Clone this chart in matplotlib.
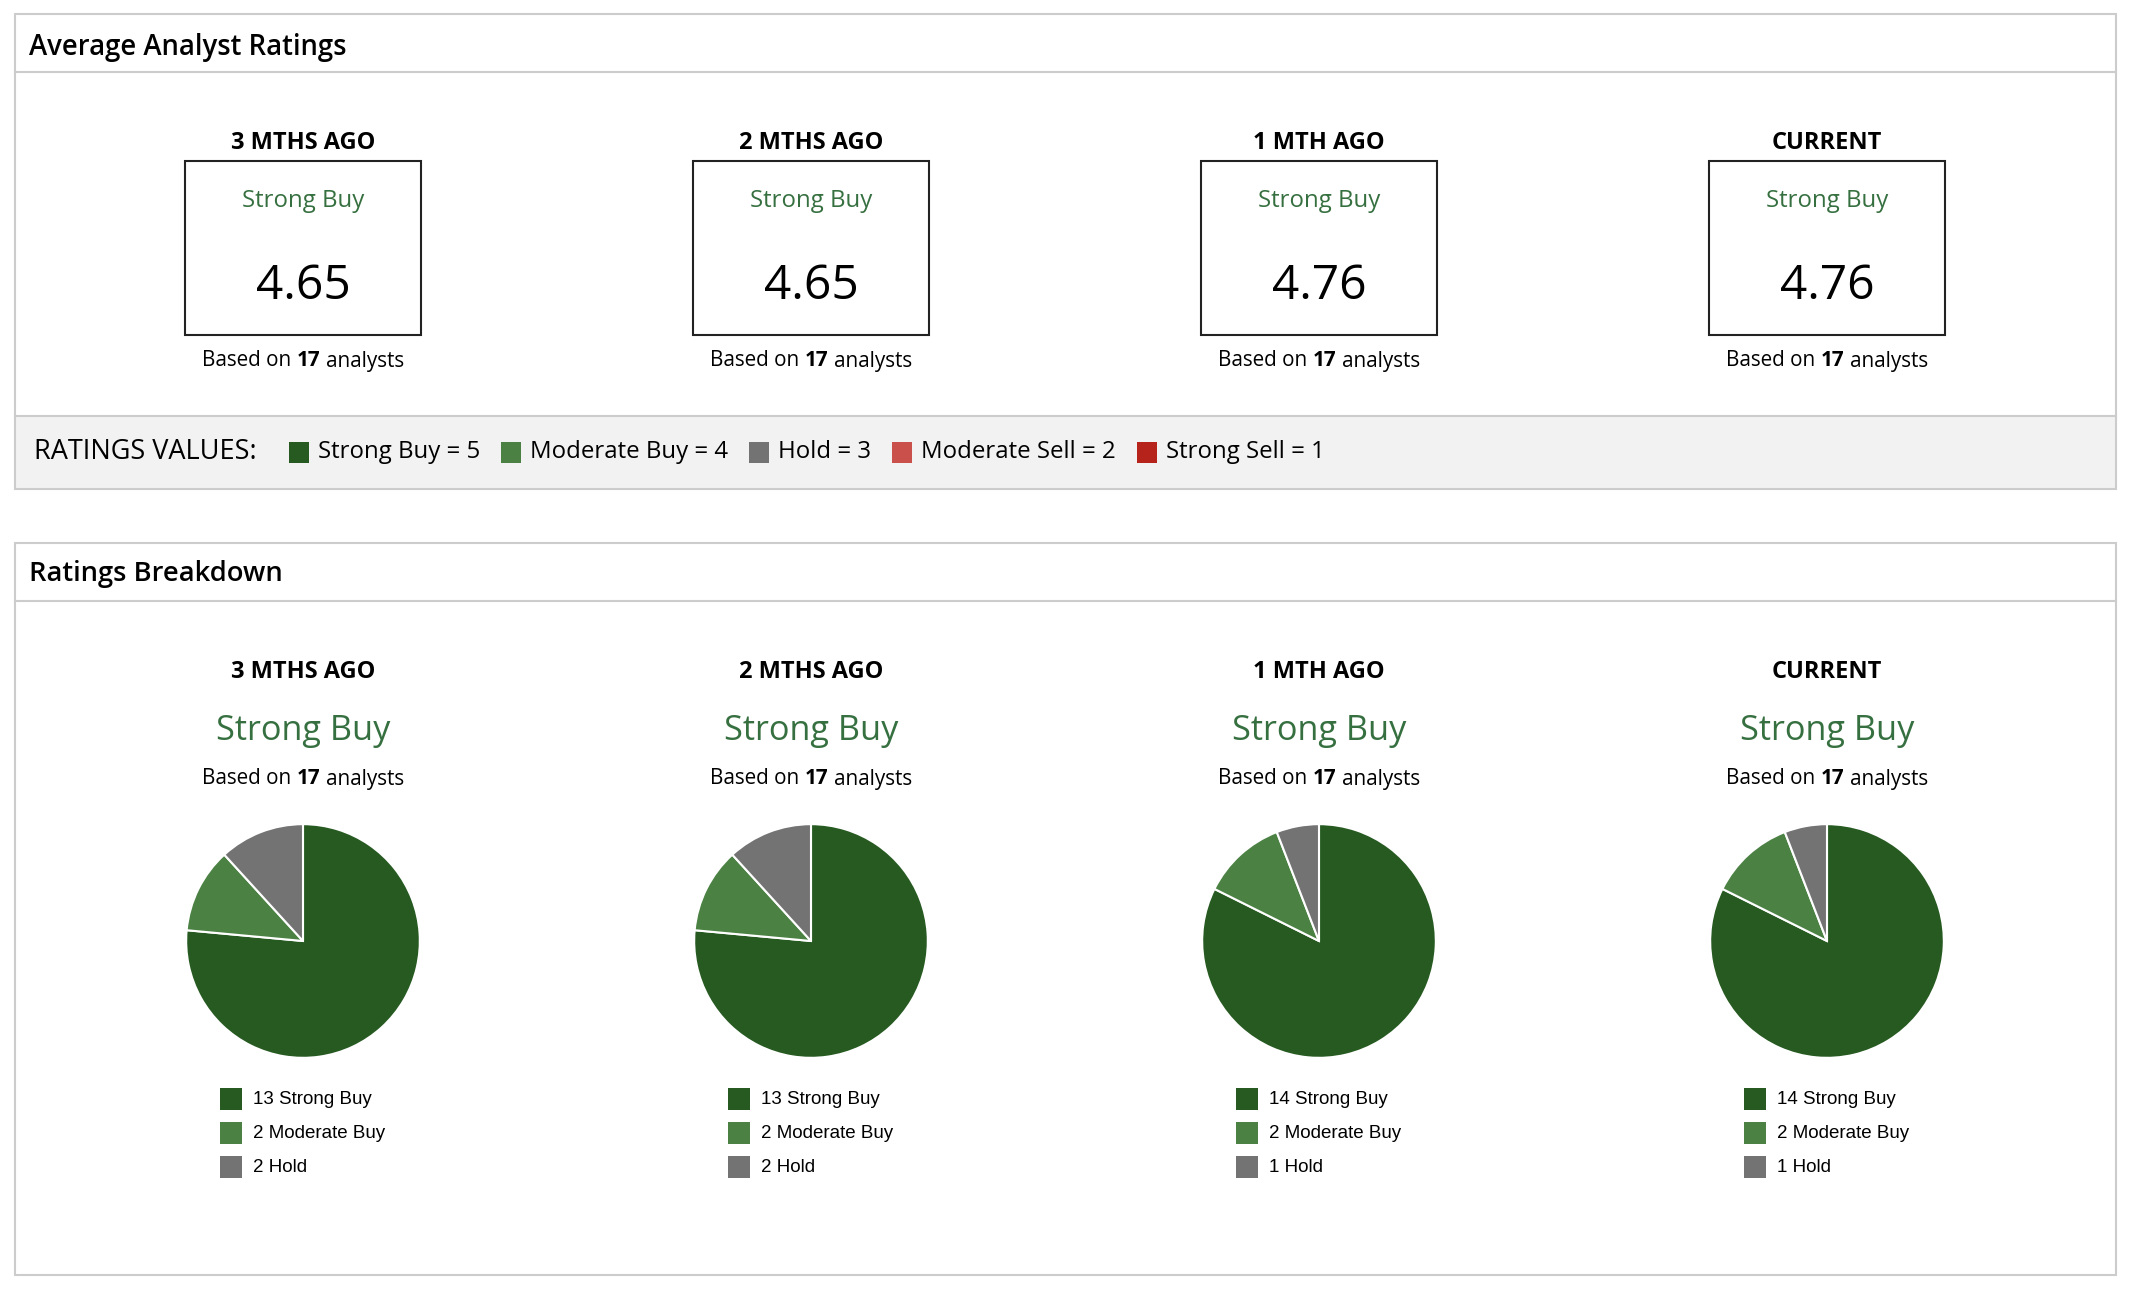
import matplotlib
matplotlib.use('Agg')
import matplotlib.pyplot as plt
from matplotlib.patches import Rectangle

# ---------------- data ----------------
periods = ['3 MTHS AGO', '2 MTHS AGO', '1 MTH AGO', 'CURRENT']
consensus = ['Strong Buy', 'Strong Buy', 'Strong Buy', 'Strong Buy']
avg_ratings = [4.65, 4.65, 4.76, 4.76]
analyst_counts = [17, 17, 17, 17]
rating_names = ['Strong Buy', 'Moderate Buy', 'Hold', 'Moderate Sell', 'Strong Sell']
rating_values = [5, 4, 3, 2, 1]
strong_buy = [13, 13, 14, 14]
moderate_buy = [2, 2, 2, 2]
hold = [2, 2, 1, 1]
moderate_sell = [0, 0, 0, 0]
strong_sell = [0, 0, 0, 0]

# ---------------- style ----------------
rating_colors = ['#265a21', '#4b8244', '#737373', '#c9504b', '#b5231b']
green_text = '#367040'
border = '#cccccc'
FONT = 'Open Sans'
LEG_FONT = 'Liberation Sans'

W, H = 2134, 1290
fig = plt.figure(figsize=(W / 100, H / 100), dpi=100)
fig.patch.set_facecolor('white')
ax = fig.add_axes([0, 0, 1, 1])
ax.set_xlim(0, W)
ax.set_ylim(H, 0)
ax.axis('off')
renderer = fig.canvas.get_renderer()


def text_w(s, **kw):
    t = ax.text(0, 0, s, **kw)
    w = t.get_window_extent(renderer).width
    t.remove()
    return w


def mixed(cx, y, parts, size, family=FONT, color='black'):
    sp = text_w('n n', fontsize=size, family=family) - text_w('nn', fontsize=size, family=family)
    widths = [text_w(s, fontsize=size, family=family, fontweight=wt) for s, wt in parts]
    total = sum(widths) + sp * (len(parts) - 1)
    x = cx - total / 2
    for (s, wt), wd in zip(parts, widths):
        ax.text(x, y, s, fontsize=size, family=family, fontweight=wt,
                va='center', ha='left', color=color)
        x += wd + sp


col_x = [303, 811, 1319, 1827]
L, R = 15, 2116

# ---------------- panel 1 ----------------
P1T, P1B = 14, 489
ax.add_patch(Rectangle((L, 416), R - L, P1B - 416, facecolor='#f2f2f2', edgecolor='none'))
ax.add_patch(Rectangle((L, P1T), R - L, P1B - P1T, facecolor='none', edgecolor=border, lw=1.5))
ax.plot([L, R], [72, 72], color=border, lw=1.5)
ax.plot([L, R], [416, 416], color=border, lw=1.5)
ax.text(29, 47, 'Average Analyst Ratings', fontsize=19.8, family=FONT, fontweight='semibold',
        va='center', ha='left')

for i, cx in enumerate(col_x):
    ax.text(cx, 143, periods[i], fontsize=17, family=FONT, fontweight='bold', va='center', ha='center')
    ax.add_patch(Rectangle((cx - 118, 161), 236, 174, facecolor='white', edgecolor='#222222', lw=1.5))
    ax.text(cx, 201, consensus[i], fontsize=17.3, family=FONT, color=green_text, va='center', ha='center')
    ax.text(cx, 286, f'{avg_ratings[i]:.2f}', fontsize=34.5, family=FONT, va='center', ha='center')
    mixed(cx, 361, [('Based on', 'normal'), (str(analyst_counts[i]), 'bold'), ('analysts', 'normal')], 14.9)

# ratings values legend
ly = 452
ax.text(34, ly, 'RATINGS VALUES:', fontsize=19.5, family=FONT, va='center', ha='left')
x = 289
for name, val, col in zip(rating_names, rating_values, rating_colors):
    ax.add_patch(Rectangle((x, ly - 10.5), 20, 21, facecolor=col, edgecolor='none'))
    lab = f'{name} = {val}'
    ax.text(x + 29, ly, lab, fontsize=17.3, family=FONT, va='center', ha='left')
    x += 29 + text_w(lab, fontsize=17.3, family=FONT) + 21

# ---------------- panel 2 ----------------
P2T, P2B = 543, 1275
ax.add_patch(Rectangle((L, P2T), R - L, P2B - P2T, facecolor='none', edgecolor=border, lw=1.5))
ax.plot([L, R], [601, 601], color=border, lw=1.5)
ax.text(29, 574, 'Ratings Breakdown', fontsize=19.7, family=FONT, fontweight='semibold',
        va='center', ha='left')

counts = [strong_buy, moderate_buy, hold, moderate_sell, strong_sell]
pie_cy, pie_r = 941, 118
for i, cx in enumerate(col_x):
    ax.text(cx, 672, periods[i], fontsize=17, family=FONT, fontweight='bold', va='center', ha='center')
    ax.text(cx, 731, consensus[i], fontsize=24.7, family=FONT, color=green_text, va='center', ha='center')
    mixed(cx, 779, [('Based on', 'normal'), (str(analyst_counts[i]), 'bold'), ('analysts', 'normal')], 14.9)

    vals = [c[i] for c in counts]
    keep = [k for k, v in enumerate(vals) if v > 0]
    pax = fig.add_axes([(cx - pie_r) / W, 1 - (pie_cy + pie_r) / H, 2 * pie_r / W, 2 * pie_r / H])
    pax.pie([vals[k] for k in keep], colors=[rating_colors[k] for k in keep],
            startangle=90, counterclock=False, radius=1,
            wedgeprops=dict(edgecolor='white', linewidth=1.5))
    pax.set_xlim(-1.01, 1.01)
    pax.set_ylim(-1.01, 1.01)
    pax.set_aspect('equal')
    pax.axis('off')

    for j, k in enumerate(keep):
        yy = 1099 + 34 * j
        ax.add_patch(Rectangle((cx - 83, yy - 11), 22, 22, facecolor=rating_colors[k], edgecolor='none'))
        ax.text(cx - 50, yy, f'{vals[k]} {rating_names[k]}', fontsize=13.5, family=LEG_FONT,
                va='center', ha='left')

fig.savefig('out.png', dpi=100, facecolor='white')
